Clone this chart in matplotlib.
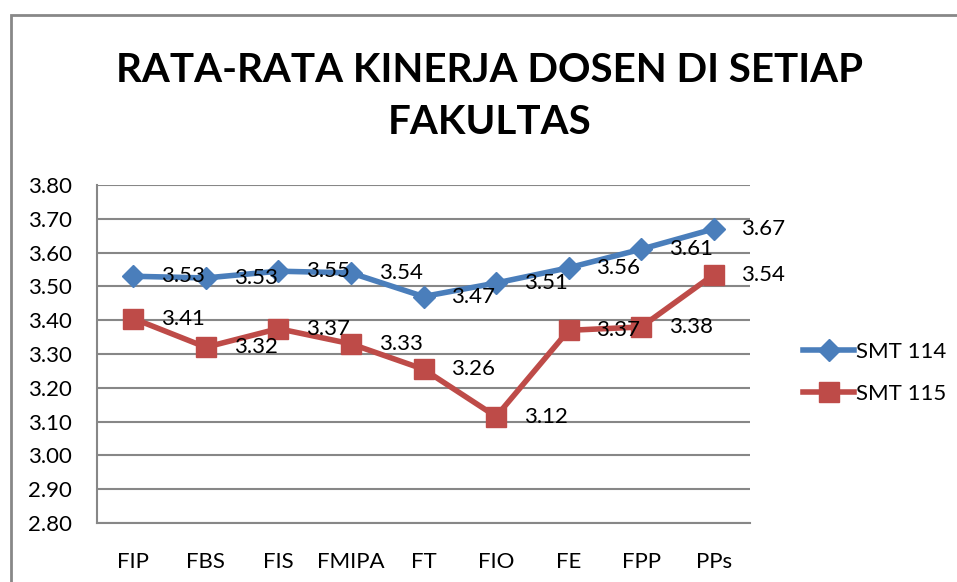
import matplotlib
matplotlib.use("Agg")
import matplotlib.pyplot as plt
from matplotlib.patches import Rectangle

# Data
fakultas = ["FIP", "FBS", "FIS", "FMIPA", "FT", "FIO", "FE", "FPP", "PPs"]
smt_114 = [3.53, 3.525, 3.545, 3.54, 3.47, 3.51, 3.555, 3.61, 3.67]
smt_115 = [3.405, 3.32, 3.375, 3.33, 3.255, 3.115, 3.37, 3.38, 3.535]
label_114 = ["3.53", "3.53", "3.55", "3.54", "3.47", "3.51", "3.56", "3.61", "3.67"]
label_115 = ["3.41", "3.32", "3.37", "3.33", "3.26", "3.12", "3.37", "3.38", "3.54"]
y_ticks = [2.80, 2.90, 3.00, 3.10, 3.20, 3.30, 3.40, 3.50, 3.60, 3.70, 3.80]

plt.rcParams["font.family"] = ["Lato", "DejaVu Sans"]

W, H = 957, 582
fig = plt.figure(figsize=(W / 100, H / 100), dpi=100)
ax = fig.add_axes([97 / W, 1 - 523 / H, (750 - 97) / W, (523 - 185) / H])

blue = "#4a7ebb"
red = "#be4b48"
x = list(range(len(fakultas)))

ax.plot(x, smt_114, color=blue, lw=4, marker="D", ms=11, label="SMT 114", zorder=3)
ax.plot(x, smt_115, color=red, lw=4, marker="s", ms=14, label="SMT 115", zorder=3)

for i in x:
    ax.annotate(label_114[i], (i, smt_114[i]), xytext=(20, 0), textcoords="offset points",
                va="center", ha="left", fontsize=16, color="black")
    ax.annotate(label_115[i], (i, smt_115[i]), xytext=(20, 0), textcoords="offset points",
                va="center", ha="left", fontsize=16, color="black")

ax.set_xlim(-0.5, len(fakultas) - 0.5)
ax.set_ylim(2.8, 3.8)
ax.set_yticks(y_ticks)
ax.set_yticklabels([f"{v:.2f}" for v in y_ticks], fontsize=16)
ax.set_xticks(x)
ax.set_xticklabels(fakultas, fontsize=16)
ax.tick_params(axis="x", length=0, pad=21)
ax.tick_params(axis="y", length=0, pad=18)
ax.grid(axis="y", color="#878787", lw=1.5)
ax.set_axisbelow(True)
for s in ["top", "right"]:
    ax.spines[s].set_visible(False)
ax.spines["left"].set_color("#878787")
ax.spines["bottom"].set_color("#878787")
ax.spines["left"].set_linewidth(1.5)
ax.spines["bottom"].set_linewidth(1.5)

fig.legend(loc="center left", bbox_to_anchor=(783 / W, 1 - 373 / H), frameon=False,
           fontsize=16, handlelength=2.3, handletextpad=0.1, labelspacing=1.0)

fig.text(490 / W, 1 - 96 / H, "RATA-RATA KINERJA DOSEN DI SETIAP\nFAKULTAS",
         ha="center", va="center", fontsize=29, fontweight="bold", linespacing=1.5)

# outer frame
fig.patches.append(Rectangle((11 / W, -0.1), 1.2, 1 - 15 / H + 0.1, transform=fig.transFigure,
                             fill=False, edgecolor="#888888", lw=2))

fig.savefig("out.png", dpi=100)
